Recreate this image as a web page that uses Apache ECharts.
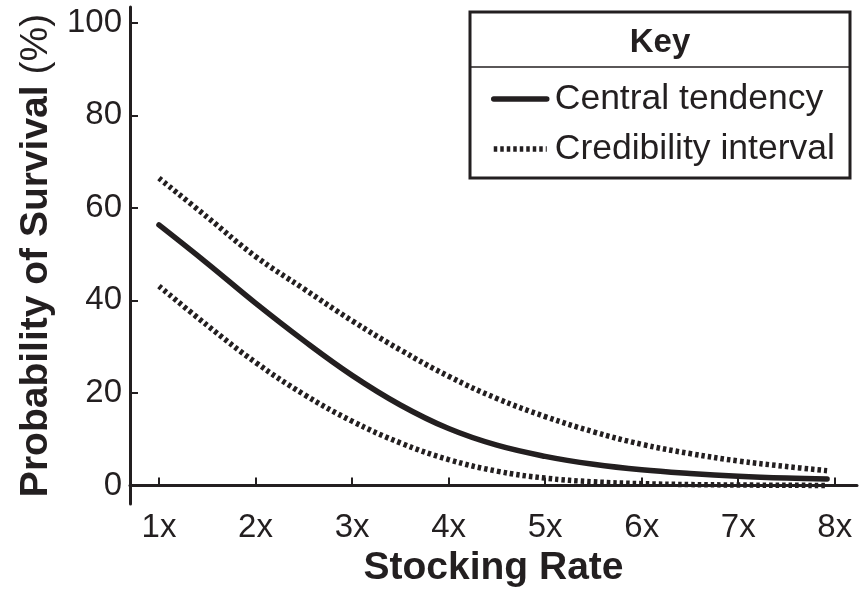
<!DOCTYPE html>
<html>
<head>
<meta charset="utf-8">
<script src="https://cdn.jsdelivr.net/npm/echarts@6/dist/echarts.min.js"></script>
<style>html,body{margin:0;padding:0;background:#fff}#c{width:867px;height:597px}</style>
</head>
<body>
<div id="c"></div>
<script>
// Data
var stockingRate = [1, 1.5, 2, 2.5, 3, 3.5, 4, 4.5, 5, 5.5, 6, 6.5, 7, 7.5, 7.92];
var centralTendency = [56.3, 48.0, 39.4, 31.3, 23.8, 17.4, 12.3, 8.7, 6.3, 4.6, 3.4, 2.6, 2.0, 1.6, 1.4];
var upperInterval   = [66.4, 58.0, 49.5, 42.5, 35.6, 29.3, 23.6, 18.8, 14.9, 11.6, 8.9, 6.9, 5.3, 4.1, 3.2];
var lowerInterval   = [43.1, 34.6, 26.6, 19.7, 13.9, 9.2, 5.6, 3.1, 1.6, 0.8, 0.4, 0.2, 0.1, 0.05, 0.0];
var xTickValues = [1, 2, 3, 4, 5, 6, 7, 8];
var yTickValues = [0, 20, 40, 60, 80, 100];

function zip(xs, ys) { return xs.map(function (x, i) { return [x, ys[i]]; }); }

var INK = '#231f20';
var FONT = "'Liberation Sans', Arial, Helvetica, sans-serif";
var DOT = [3.5, 3];

var chart = echarts.init(document.getElementById('c'), null, { renderer: 'canvas' });
chart.setOption({
  animation: false,
  backgroundColor: '#fff',
  textStyle: { fontFamily: FONT, color: INK },
  grid: { left: 130, right: 10, top: 7, bottom: 93, containLabel: false },
  xAxis: {
    type: 'value', min: 0.7, max: 8.23,
    name: 'Stocking Rate', nameLocation: 'middle', nameGap: 44,
    nameTextStyle: { fontFamily: FONT, fontSize: 39, fontWeight: 'bold', color: INK },
    axisLine: { show: true, lineStyle: { color: INK, width: 3 } },
    axisTick: { show: true, inside: true, length: 8, lineStyle: { color: INK, width: 2 }, customValues: xTickValues },
    axisLabel: { fontFamily: FONT, fontSize: 33, color: INK, margin: 7, customValues: xTickValues,
      formatter: function (v) { return v + 'x'; } },
    splitLine: { show: false }
  },
  yAxis: {
    type: 'value', min: -4, max: 103.4,
    name: '{b|Probability of Survival}{r| (%)}', nameLocation: 'middle', nameGap: 73,
    nameTextStyle: { rich: {
      b: { fontFamily: FONT, fontSize: 39, fontWeight: 'bold', color: INK },
      r: { fontFamily: FONT, fontSize: 39, fontWeight: 'normal', color: INK } } },
    axisLine: { show: true, lineStyle: { color: INK, width: 3 } },
    axisTick: { show: true, inside: true, length: 8, lineStyle: { color: INK, width: 2 }, customValues: yTickValues },
    axisLabel: { fontFamily: FONT, fontSize: 33, color: INK, margin: 8, customValues: yTickValues },
    splitLine: { show: false }
  },
  legend: {
    show: true, orient: 'vertical', left: 486, top: 76, z: 10,
    itemWidth: 53, itemHeight: 14, itemGap: 14,
    itemStyle: { opacity: 0 },
    data: [
      { name: 'Central tendency', lineStyle: { width: 5.5, type: 'solid', cap: 'round' } },
      { name: 'Credibility interval', lineStyle: { width: 5.5, type: DOT } }
    ],
    textStyle: { fontFamily: FONT, fontSize: 35.5, color: INK, padding: [0, 0, 0, 3] },
    selectedMode: false
  },
  graphic: [
    { type: 'rect', z: 1, shape: { x: 470, y: 12, width: 380, height: 166 },
      style: { fill: 'none', stroke: INK, lineWidth: 3 } },
    { type: 'line', z: 1, shape: { x1: 470, y1: 67, x2: 850, y2: 67 },
      style: { stroke: INK, lineWidth: 1.5 } },
    { type: 'text', z: 1, x: 660, y: 43,
      style: { text: 'Key', fontFamily: FONT, fontSize: 33, fontWeight: 'bold', fill: INK,
        align: 'center', verticalAlign: 'middle' } }
  ],
  series: [
    { name: 'Central tendency', type: 'line', data: zip(stockingRate, centralTendency),
      smooth: 0.4, symbol: 'none', showSymbol: false,
      lineStyle: { color: INK, width: 5.5, type: 'solid', cap: 'round' }, itemStyle: { color: INK } },
    { name: 'Credibility interval', type: 'line', data: zip(stockingRate, upperInterval),
      smooth: 0.4, symbol: 'none', showSymbol: false,
      lineStyle: { color: INK, width: 5.5, type: DOT }, itemStyle: { color: INK } },
    { name: 'Credibility interval', type: 'line', data: zip(stockingRate, lowerInterval),
      smooth: 0.4, symbol: 'none', showSymbol: false,
      lineStyle: { color: INK, width: 5.5, type: DOT }, itemStyle: { color: INK } }
  ]
});
</script>
</body>
</html>
